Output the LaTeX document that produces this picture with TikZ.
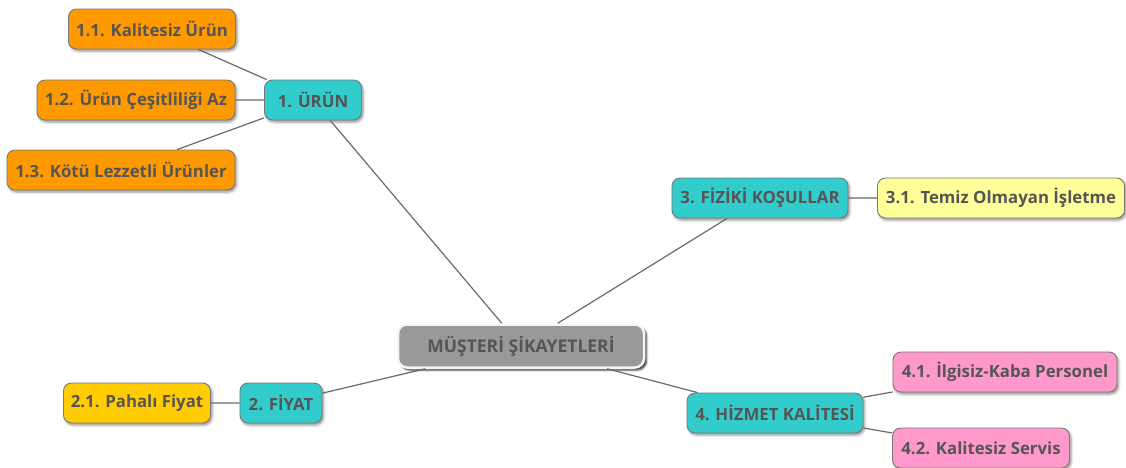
\documentclass[tikz,border=0pt]{standalone}
\usepackage{fontspec}
\setmainfont{Open Sans}
\usetikzlibrary{shadows.blur}
\definecolor{txt}{HTML}{555555}
\definecolor{teal1}{HTML}{33CCCC}
\definecolor{orng}{HTML}{FF9900}
\definecolor{ylw}{HTML}{FFCC00}
\definecolor{lylw}{HTML}{FFFF99}
\definecolor{pnk}{HTML}{FF99CC}
\definecolor{edge}{HTML}{777777}
\definecolor{lnk}{HTML}{6A6A6A}
\tikzset{
  box/.style={draw=edge, line width=0.9pt, rounded corners=8pt, minimum height=40pt,
    inner sep=0pt, text=txt, font=\fontsize{16.8}{18}\selectfont\bfseries,
    blur shadow={shadow xshift=1.5pt, shadow yshift=-2pt, shadow blur radius=2.5pt, shadow opacity=45}},
  mainbox/.style={box, fill=teal1},
  obox/.style={box, fill=orng},
  ybox/.style={box, fill=ylw},
  lbox/.style={box, fill=lylw},
  pbox/.style={box, fill=pnk},
  root/.style={draw=white!92!gray, line width=2.5pt, rounded corners=9pt, fill=black!40,
    minimum width=246pt, minimum height=43pt, inner sep=0pt, text=txt,
    font=\fontsize{17.5}{19}\selectfont\bfseries,
    blur shadow={shadow xshift=2.5pt, shadow yshift=-2.5pt, shadow blur radius=2pt, shadow opacity=85}},
  link/.style={draw=lnk, line width=1.2pt}
}
\begin{document}
\begin{tikzpicture}[x=1pt,y=-1pt]
\useasboundingbox (0,0) rectangle (1126,467);
% nodes
\node[root] (c) at (521,346) {MÜŞTERİ ŞİKAYETLERİ};
\node[mainbox, minimum width=97pt] (u) at (313,100) {1. ÜRÜN};
\node[obox, minimum width=167pt] (u1) at (152,29) {1.1. Kalitesiz Ürün};
\node[obox, minimum width=198pt] (u2) at (136,100) {1.2. Ürün Çeşitliliği Az};
\node[obox, minimum width=228pt] (u3) at (121,170) {1.3. Kötü Lezzetli Ürünler};
\node[mainbox, minimum width=82pt] (f) at (281,403) {2. FİYAT};
\node[ybox, minimum width=147pt] (f1) at (137,403) {2.1. Pahalı Fiyat};
\node[mainbox, minimum width=176pt] (k) at (760,198) {3. FİZİKİ KOŞULLAR};
\node[lbox, minimum width=247pt] (k1) at (1001,198) {3.1. Temiz Olmayan İşletme};
\node[mainbox, minimum width=176pt] (h) at (775,413) {4. HİZMET KALİTESİ};
\node[pbox, minimum width=224pt] (h1) at (1005,372) {4.1. İlgisiz-Kaba Personel};
\node[pbox, minimum width=177pt] (h2) at (981,448) {4.2. Kalitesiz Servis};
% links
\path[link] (c) -- (u) (c) -- (f) (c) -- (k) (c) -- (h)
  (u) -- (u1) (u) -- (u2) (u) -- (u3)
  (f) -- (f1) (k) -- (k1) (h) -- (h1) (h) -- (h2);
\end{tikzpicture}
\end{document}
